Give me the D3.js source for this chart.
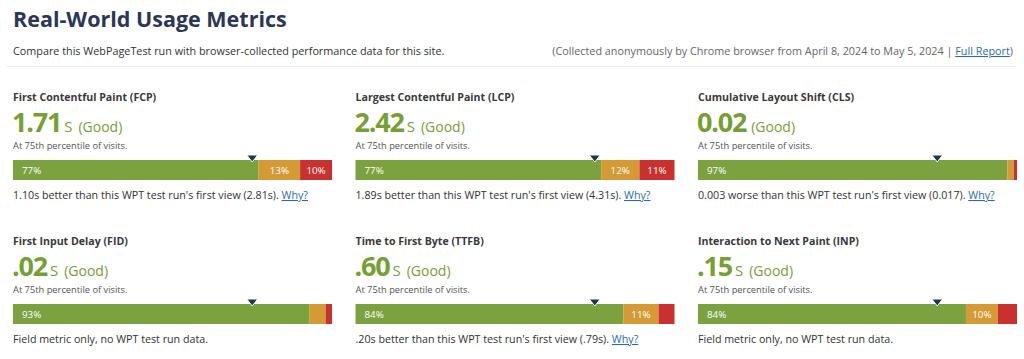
<!DOCTYPE html>
<html><head><meta charset="utf-8">
<script src="https://cdn.jsdelivr.net/npm/d3@7/dist/d3.min.js"></script>
<style>
html,body{margin:0;padding:0;background:#fff;}
svg{display:block;font-family:"Open Sans",sans-serif;}
</style></head>
<body><svg id="c" width="1024" height="359"></svg>
<script>
const metricNames = ["First Contentful Paint (FCP)","Largest Contentful Paint (LCP)","Cumulative Layout Shift (CLS)","First Input Delay (FID)","Time to First Byte (TTFB)","Interaction to Next Paint (INP)"];
const metricValues = ["1.71","2.42","0.02",".02",".60",".15"];
const metricUnits = ["S","S","","S","S","S"];
const ratings = ["(Good)","(Good)","(Good)","(Good)","(Good)","(Good)"];
const goodPct = [77,77,97,93,84,84];
const needsPct = [13,12,2,5,11,10];
const poorPct = [10,11,1,2,5,6];
const markerPct = [75,75,75,75,75,75];
const notes = ["1.10s better than this WPT test run's first view (2.81s).","1.89s better than this WPT test run's first view (4.31s).","0.003 worse than this WPT test run's first view (0.017).","Field metric only, no WPT test run data.",".20s better than this WPT test run's first view (.79s).","Field metric only, no WPT test run data."];
const hasWhy = [true,true,true,false,true,false];

const svg = d3.select("#c");
const colors = ["#7ba23f","#d49a36","#c8312d"];

svg.append("text").attr("x",13).attr("y",27).attr("font-size",21.5).attr("font-weight",700)
  .attr("fill","#2b3658").text("Real-World Usage Metrics");
svg.append("text").attr("x",13).attr("y",55).attr("font-size",10.8).attr("fill","#333")
  .text("Compare this WebPageTest run with browser-collected performance data for this site.");
const rt = svg.append("text").attr("x",1013).attr("y",55).attr("font-size",10.8).attr("fill","#666").attr("text-anchor","end");
rt.append("tspan").text("(Collected anonymously by Chrome browser from April 8, 2024 to May 5, 2024 | ");
rt.append("tspan").attr("fill","#2b6cb0").attr("text-decoration","underline").text("Full Report");
rt.append("tspan").text(")");
svg.append("line").attr("x1",6).attr("x2",1016).attr("y1",66.5).attr("y2",66.5).attr("stroke","#eeeeee");

const col = d3.scaleLinear().domain([0,2]).range([13,698]);
const bw = 319;
const row = d3.scaleLinear().domain([0,1]).range([0,144]);
const pct = d3.scaleLinear().domain([0,100]).range([0,bw]);

metricNames.forEach((name,i)=>{
  const x0 = col(i%3), y0 = row(Math.floor(i/3));
  const g = svg.append("g").attr("transform",`translate(${x0},${y0})`);
  g.append("text").attr("x",0).attr("y",101).attr("font-size",10.6).attr("font-weight",700).attr("fill","#3a3a3a").text(name);
  const v = g.append("text").attr("x",-1).attr("y",132).attr("fill","#76a034");
  v.append("tspan").attr("font-size",27).attr("font-weight",700).attr("letter-spacing",-1.2).text(metricValues[i]);
  if(metricUnits[i]) v.append("tspan").attr("font-size",15).attr("dx",3).text(metricUnits[i]);
  v.append("tspan").attr("font-size",14).attr("dx",metricUnits[i]?6:5).text(ratings[i]);
  g.append("text").attr("x",0).attr("y",148.5).attr("font-size",9.3).attr("fill","#555").text("At 75th percentile of visits.");
  const segs = [goodPct[i],needsPct[i],poorPct[i]];
  let acc = 0;
  segs.forEach((p,k)=>{
    const sx = pct(acc), ex = pct(acc+p);
    g.append("rect").attr("x",sx).attr("y",160).attr("width",ex-sx).attr("height",20).attr("fill",colors[k]);
    if(p>=10){
      g.append("text").attr("x",k===0?sx+9:(sx+ex)/2).attr("y",173.5)
        .attr("text-anchor",k===0?"start":"middle").attr("font-size",9.8).attr("fill","#fff").text(p+"%");
    }
    acc += p;
  });
  const mx = pct(markerPct[i]);
  g.append("path").attr("d",`M${mx-5.5},155 L${mx+5.5},155 L${mx},162 Z`).attr("fill","#26324f").attr("stroke","#fff").attr("stroke-width",1);
  const n = g.append("text").attr("x",0).attr("y",199).attr("font-size",10.7).attr("fill","#333").text(notes[i]);
  if(hasWhy[i]){
    n.append("tspan").text(" ");
    n.append("tspan").attr("fill","#2b6cb0").attr("text-decoration","underline").text("Why?");
  }
});
</script></body></html>
